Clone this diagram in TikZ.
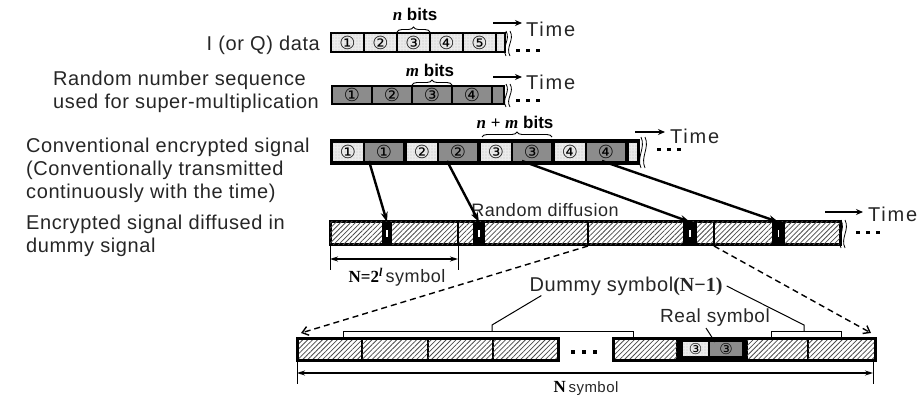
\documentclass[tikz,border=0pt]{standalone}
\usepackage{fontspec}
\setmainfont{Liberation Sans}
\newfontfamily\lblfont[LetterSpace=3]{Liberation Sans}
\newfontfamily\timefont[LetterSpace=9]{Liberation Sans}
\newfontfamily\serifbf{Liberation Serif}
\newfontfamily\symfont{DejaVu Sans}
\usetikzlibrary{arrows.meta,decorations.pathreplacing,patterns,patterns.meta}

% wavy break mark: x, top, bottom
\newcommand{\brk}[3]{%
  \foreach \dx in {0,4}{%
    \draw[line width=0.8pt] ({#1+\dx},#2) .. controls ({#1+\dx+5},{#2+(#3-#2)*0.35}) and ({#1+\dx-5},{#2+(#3-#2)*0.65}) .. ({#1+\dx},#3);}}

\begin{document}
\begin{tikzpicture}[x=1pt,y=-1pt,
  lbl/.style={font=\lblfont\fontsize{20}{23}\selectfont, text=black!85, inner sep=0pt},
  timelbl/.style={font=\timefont\fontsize{20}{20}\selectfont, text=black!85, inner sep=0pt},
  cellbase/.style={inner sep=0pt, outer sep=0pt, font=\symfont\fontsize{18}{18}\selectfont},
  dotcell/.style={cellbase, draw=black, line width=1.5pt, fill=black!8, postaction={pattern={Dots[distance=3pt,radius=0.45pt]}, pattern color=black!55}},
  graycell/.style={cellbase, draw=black, line width=1.5pt, fill=black!45},
  dotplain/.style={cellbase, fill=black!8, postaction={pattern={Dots[distance=3pt,radius=0.45pt]}, pattern color=black!55}},
  grayplain/.style={cellbase, fill=black!45},
  hatchcell/.style={inner sep=0pt, outer sep=0pt, draw=black, line width=2pt, fill=white, postaction={pattern={Lines[angle=45,distance=3.5pt,line width=0.8pt]}, pattern color=black!70}},
  blk/.style={inner sep=0pt, outer sep=0pt, fill=black},
  bigarrow/.style={line width=2.4pt, -{Stealth[length=10pt,width=7pt]}},
  timearrow/.style={line width=1.6pt, -{Stealth[length=7pt,width=6pt]}},
  dasharrow/.style={line width=1.4pt, dash pattern=on 6pt off 4pt, -{Straight Barb[length=6pt,width=9pt]}},
  dimarrow/.style={line width=1.2pt, {Stealth[length=8pt,width=5pt]}-{Stealth[length=8pt,width=5pt]}},
  bitlbl/.style={font=\fontsize{17}{17}\selectfont, inner sep=0pt},
  brc/.style={decorate, decoration={brace, amplitude=5pt}, line width=0.9pt}
]
\useasboundingbox (0,0) rectangle (920,395);

% I (or Q) data
\node[lbl, anchor=east] (iq) at (320,45) {I (or Q) data};
\foreach \c [count=\i] in {①,②,③,④,⑤}
  \node[dotcell, minimum width=33pt, minimum height=19pt] (a\i) at ({314.5+33*\i},42.5) {\c};
\node[dotcell, minimum width=9pt, minimum height=19pt, anchor=west] (a6) at (a5.east) {};
\draw[brc] ([yshift=1pt]a3.north west) -- ([yshift=1pt]a3.north east);
\node[bitlbl] (nbits) at (415,14) {{\serifbf\bfseries\itshape n} \textbf{bits}};
\coordinate (ta1) at (493,23); \coordinate (tb1) at (522,23);
\draw[timearrow] (ta1) -- (tb1);
\node[timelbl, anchor=west] (time1) at (526,29) {Time};
\brk{506}{31}{56}
\foreach \k in {0,1,2} \fill (516+10*\k,49) rectangle ++(3.5,3.5);

% random number sequence
\node[lbl, anchor=west, align=left] (rnd) at (53,92) {Random number sequence\\used for super-multiplication};
\foreach \c [count=\i] in {①,②,③,④}
  \node[graycell, minimum width=40pt, minimum height=18pt] (b\i) at ({312+40*\i},95) {\c};
\node[graycell, minimum width=12pt, minimum height=18pt, anchor=west] (b5) at (b4.east) {};
\draw[brc] ([yshift=1pt]b3.north west) -- ([yshift=1pt]b3.north east);
\node[bitlbl] (mbits) at (430,70) {{\serifbf\bfseries\itshape m} \textbf{bits}};
\coordinate (ta2) at (493,77); \coordinate (tb2) at (522,77);
\draw[timearrow] (ta2) -- (tb2);
\node[timelbl, anchor=west] (time2) at (526,82) {Time};
\brk{506}{84}{107}
\foreach \k in {0,1,2} \fill (516+10*\k,99) rectangle ++(3.5,3.5);

% conventional encrypted signal
\node[lbl, anchor=west, align=left] (conv) at (26,170) {Conventional encrypted signal\\(Conventionally transmitted\\continuously with the time)};
\node[blk, minimum width=310pt, minimum height=26pt, anchor=north west] (c0) at (330,139) {};
\foreach \c [count=\i] in {①,②,③,④} {
  \node[dotplain, minimum width=30pt, minimum height=18pt, anchor=west] (cl\i) at ({259+74*\i},152) {\c};
  \node[grayplain, minimum width=38pt, minimum height=18pt, anchor=west] (cg\i) at ({291+74*\i},152) {\c};
}
\node[dotplain, minimum width=8pt, minimum height=18pt, anchor=west] (cl5) at (629,152) {};
\draw[brc] (482,137) -- (552,137);
\node[bitlbl] (nmbits) at (515,122) {{\serifbf\bfseries\itshape n} {\serifbf\bfseries +} {\serifbf\bfseries\itshape m} \textbf{bits}};
\coordinate (ta3) at (635,132); \coordinate (tb3) at (665,132);
\draw[timearrow] (ta3) -- (tb3);
\node[timelbl, anchor=west] (time3) at (670,136) {Time};
\brk{641}{137}{168}
\foreach \k in {0,1,2} \fill (657+10*\k,148) rectangle ++(3.5,3.5);

% encrypted signal diffused in dummy signal
\node[lbl, anchor=west, align=left] (diff) at (26,236) {Encrypted signal diffused in\\dummy signal};
\node[hatchcell, line width=3pt, minimum width=510pt, minimum height=23pt, anchor=north west] (d0) at (330,222) {};
\foreach \x in {458,588,714} \draw[line width=2pt] (\x,222) -- (\x,245);
\foreach \x/\w [count=\i] in {382/10pt,473/12pt,683/14pt,772/13pt} {
  \node[blk, minimum width=\w, minimum height=23pt, anchor=north west] (s\i) at (\x,222) {};
  \node[fill=white, inner sep=0pt, minimum width=1.6pt, minimum height=7pt] (w\i) at (s\i) {};
}
\coordinate (ta4) at (825,212); \coordinate (tb4) at (863,212);
\draw[timearrow] (ta4) -- (tb4);
\node[timelbl, anchor=west] (time4) at (868,214) {Time};
\brk{841}{220}{248}
\foreach \k in {0,1,2} \fill (856+10*\k,231) rectangle ++(3.5,3.5);

\node[font=\lblfont\fontsize{18}{18}\selectfont, text=black!85] (rdiff) at (545,210) {Random diffusion};

% diffusion arrows
\draw[bigarrow] ([xshift=4pt]cg1.south west) -- (s1.north);
\draw[bigarrow] ([xshift=8pt]cg2.south west) -- (s2.north);
\draw[bigarrow] ([xshift=9pt]cg3.south west) -- (s3.north);
\draw[bigarrow] ([xshift=15pt]cg4.south west) -- (s4.north);

% N = 2^l
\draw[line width=1pt] (330,246) -- (330,270);
\draw[line width=1pt] (458,246) -- (458,270);
\coordinate (nl) at (330,259); \coordinate (nr) at (458,259);
\draw[dimarrow] (nl) -- (nr);
\node (nlbl) at (397,277) {{\serifbf\bfseries\fontsize{17}{17}\selectfont N=2\textsuperscript{\itshape l}} {\lblfont\fontsize{18}{18}\selectfont\color{black!85}symbol}};

% bottom enlarged bar
\foreach \i in {1,...,4}
  \node[hatchcell, minimum width=65.25pt, minimum height=22pt, anchor=west] (e\i) at ({297+65.25*(\i-1)},349) {};
\draw[line width=3pt] (e1.north west) rectangle (e4.south east);
\foreach \k in {0,1,2} \fill (571+11*\k,350) rectangle ++(3.5,3.5);
\node[hatchcell, minimum width=64pt, minimum height=22pt, anchor=west] (f1) at (613,349) {};
\node[blk, minimum width=70pt, minimum height=24pt, anchor=west] (f2) at (677,349) {};
\node[dotplain, minimum width=25pt, minimum height=14pt, anchor=west, font=\symfont\fontsize{15}{15}\selectfont] (fl) at (683,349) {③};
\node[grayplain, minimum width=32pt, minimum height=14pt, anchor=west, font=\symfont\fontsize{15}{15}\selectfont] (fg) at (710,349) {③};
\node[hatchcell, minimum width=61pt, minimum height=22pt, anchor=west] (f3) at (747,349) {};
\node[hatchcell, minimum width=67pt, minimum height=22pt, anchor=west] (f4) at (808,349) {};
\draw[line width=3pt] (f1.north west) rectangle (f4.south east);

\coordinate (p3) at (588,246); \coordinate (p4) at (714,246);
\draw[dasharrow] (p3) -- ([shift={(4pt,5pt)}]e1.north west);
\draw[dasharrow] (p4) -- ([shift={(-4pt,5pt)}]f4.north east);

% dummy / real symbol labels
\draw[line width=0.9pt] (343,337) -- (343,331) -- (633,331) -- (633,337);
\draw[line width=0.9pt] (771,337) -- (771,331) -- (841,331) -- (841,337);
\node[lbl] (dummy) at (626,286) {Dummy symbol{\serifbf\bfseries (N−1)}};
\draw[line width=1pt] (492,331) -- (492,325) -- ([xshift=12pt]dummy.south west);
\draw[line width=1pt] (804,331) -- (804,325) -- ([xshift=4pt]dummy.east);
\node[font=\lblfont\fontsize{19}{19}\selectfont, text=black!85, inner sep=1pt] (real) at (715,318) {Real symbol};
\draw[line width=1pt] ([xshift=-9pt]real.south) -- ([xshift=5pt]fg.north west);

% N symbol
\draw[line width=1pt] (297,360) -- (297,384);
\draw[line width=1pt] (873,360) -- (873,384);
\coordinate (ml) at (297,373); \coordinate (mr) at (873,373);
\draw[dimarrow] (ml) -- (mr);
\node[inner sep=0pt] (nsym) at (586,388) {{\serifbf\bfseries\fontsize{17}{17}\selectfont N} {\lblfont\fontsize{15}{15}\selectfont\color{black!85}symbol}};
\end{tikzpicture}
\end{document}
